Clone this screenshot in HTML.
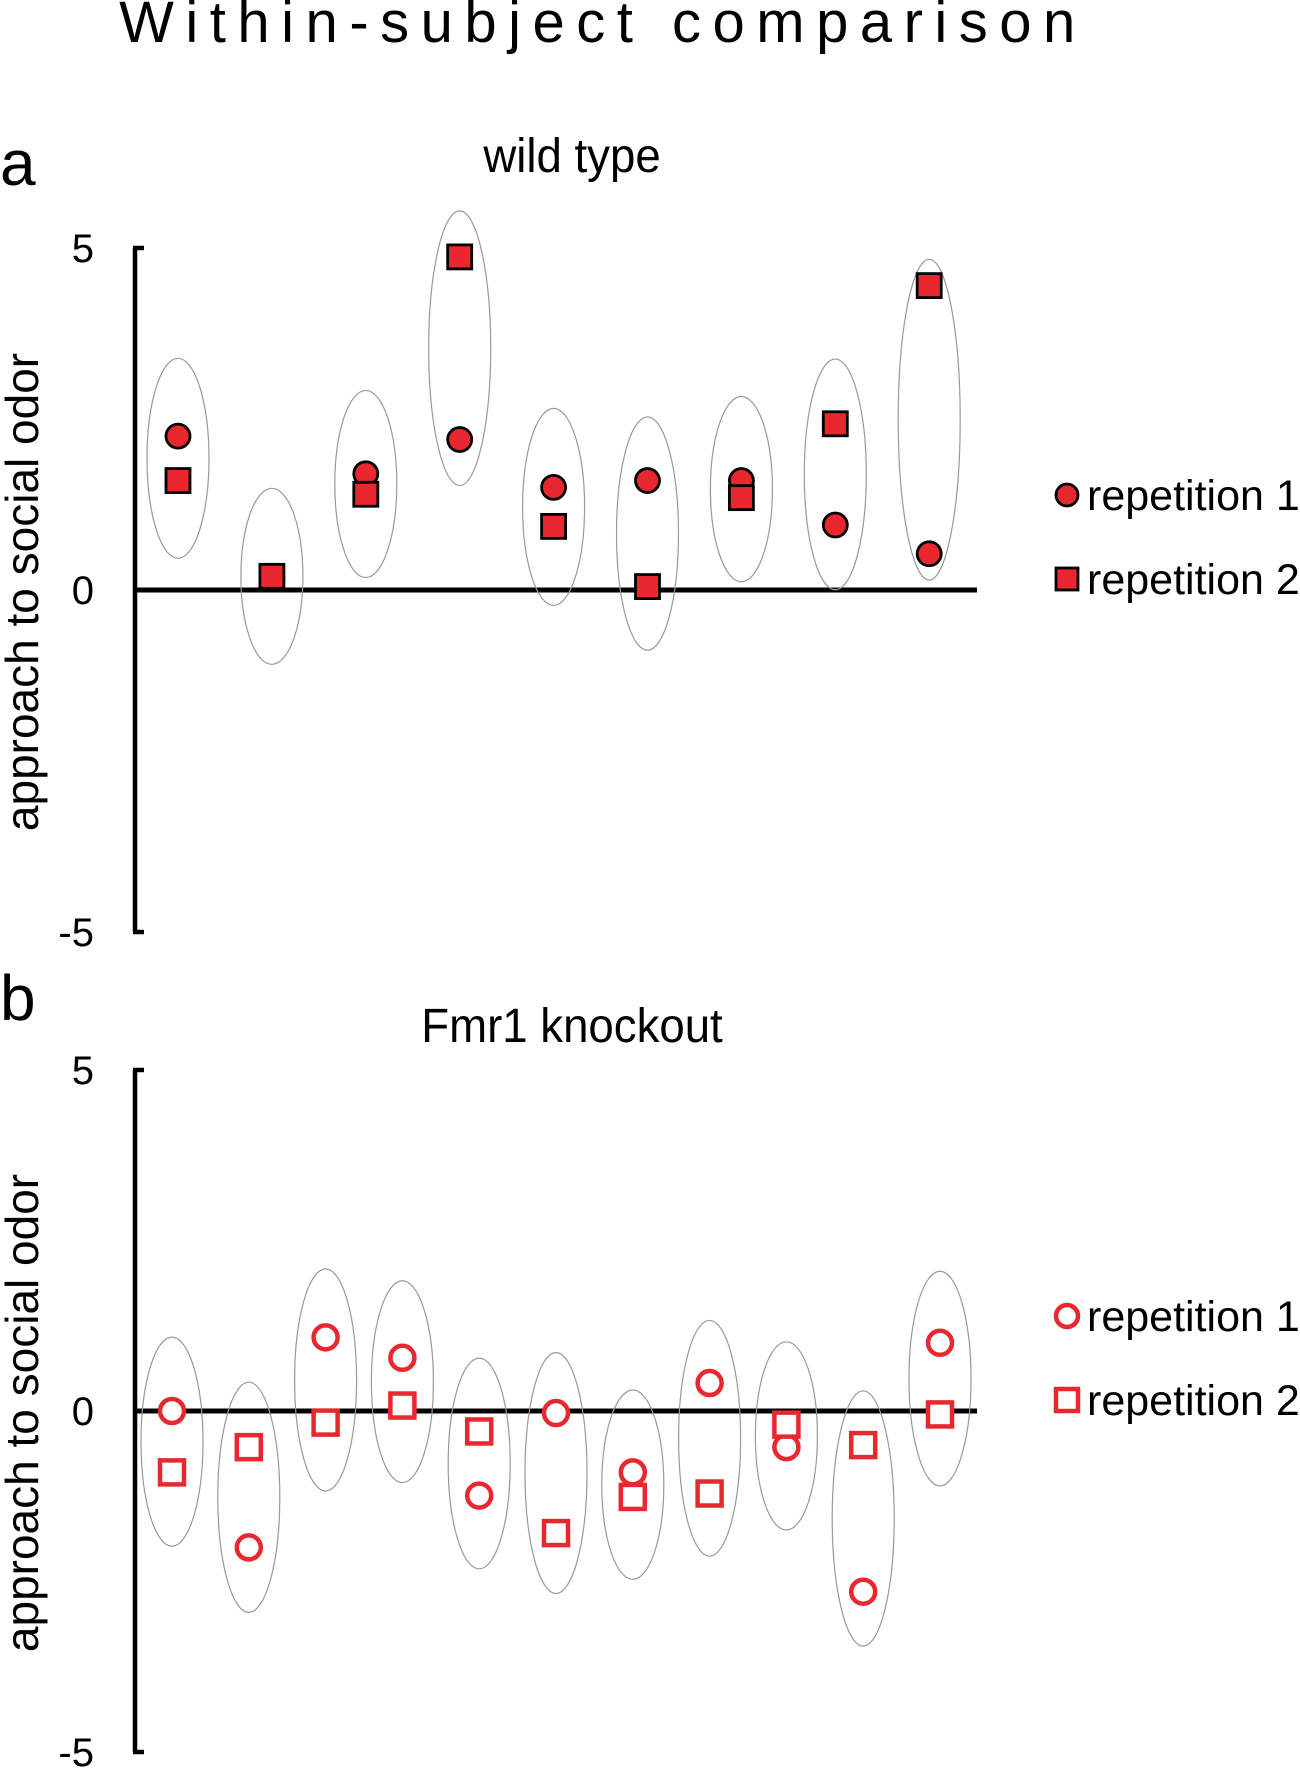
<!DOCTYPE html>
<html><head><meta charset="utf-8"><style>
html,body{margin:0;padding:0;background:#fff;}
svg{display:block;font-family:"Liberation Sans",Arial,sans-serif;}
</style></head><body>
<svg id="chart" width="1300" height="1770" viewBox="0 0 1300 1770" xmlns="http://www.w3.org/2000/svg">
<text x="603" y="42" font-size="58" text-anchor="middle" letter-spacing="11.5">Within-subject comparison</text>
<text x="0" y="185" font-size="64">a</text>
<text x="572" y="172" font-size="48" text-anchor="middle" transform="translate(572,0) scale(0.95,1) translate(-572,0)">wild type</text>
<text x="0" y="1020" font-size="64">b</text>
<text x="572" y="1042" font-size="48" text-anchor="middle" transform="translate(572,0) scale(0.95,1) translate(-572,0)">Fmr1 knockout</text>
<g id="pa"></g>
<g id="pb"></g>
</svg>
<script>
const wtRep1 = [2.25, 0.2, 1.7, 2.2, 1.5, 1.6, 1.6, 0.95, 0.53];
const wtRep2 = [1.6, 0.2, 1.4, 4.87, 0.93, 0.05, 1.35, 2.43, 4.45];
const koRep1 = [0, -2.0, 1.08, 0.78, -1.24, -0.03, -0.9, 0.41, -0.53, -2.65, 1.0];
const koRep2 = [-0.9, -0.53, -0.17, 0.08, -0.3, -1.79, -1.26, -1.21, -0.2, -0.5, -0.05];
const yTicks = [5, 0, -5];
const legendLabels = ["repetition 1", "repetition 2"];

const NS = "http://www.w3.org/2000/svg";
function mk(tag, attrs, parent){const e=document.createElementNS(NS,tag);for(const k in attrs)e.setAttribute(k,attrs[k]);parent.appendChild(e);return e;}

function panel(g, top, zero, xStart, xStep, r1, r2, filled, prefix){
  const unit = (zero - top)/5;
  const y = v => zero - v*unit;
  const xs = i => xStart + i*xStep;
  const axX = 135;
  const ax = mk('line',{x1:axX,y1:y(5),x2:axX,y2:y(-5),stroke:'#000','stroke-width':4.5},g);
  
  
  yTicks.forEach(t=>{
    const tk = mk('line',{x1:axX-2,y1:y(t),x2:axX+9,y2:y(t),stroke:'#000','stroke-width':4.5},g);
    
    
    const tl = mk('text',{x:94,y:y(t)+14,'font-size':40,'text-anchor':'end'},g);
    tl.textContent = t;
    
    
  });
  const zl = mk('line',{x1:axX,y1:y(0),x2:977,y2:y(0),stroke:'#000','stroke-width':5},g);
  
  
  const yt = mk('text',{x:0,y:0,'font-size':46,'text-anchor':'middle',transform:`translate(38,${y(0)+2}) rotate(-90)`},g);
  yt.textContent = 'approach to social odor';
  
  
  const stroke = filled ? '#000' : '#e8282e';
  const fill = filled ? '#e8282e' : '#fff';
  const sw = filled ? 2.8 : 4.5;
  r1.forEach((v,i)=>{
    const a=y(v), b=y(r2[i]);
    const cy=(a+b)/2, h=88 + 0.27*Math.abs(a-b);
    const el = mk('ellipse',{cx:xs(i),cy:cy,rx:31,ry:h,fill:'none',stroke:'#999','stroke-width':1.2},g);
    
    
  });
  r1.forEach((v,i)=>{
    const c = mk('circle',{cx:xs(i),cy:y(v),r:12,fill:fill,stroke:stroke,'stroke-width':sw},g);
    
    
  });
  r2.forEach((v,i)=>{
    const s = mk('rect',{x:xs(i)-12,y:y(v)-12,width:24,height:24,fill:fill,stroke:stroke,'stroke-width':sw},g);
    
    
  });
  const ly = [y(0)-95, y(0)-11];
  const lc = mk('circle',{cx:1067,cy:ly[0],r:11,fill:fill,stroke:stroke,'stroke-width':sw},g);
  
  
  const lr = mk('rect',{x:1056,y:ly[1]-11,width:22,height:22,fill:fill,stroke:stroke,'stroke-width':sw},g);
  
  
  legendLabels.forEach((t,i)=>{
    const tx = mk('text',{x:1087,y:ly[i]+15,'font-size':43},g);
    tx.textContent = t;
    
    
  });
}
panel(document.getElementById('pa'), 248, 590, 178, 93.9, wtRep1, wtRep2, true, 'wt');
panel(document.getElementById('pb'), 1070, 1411, 172, 76.8, koRep1, koRep2, false, 'ko');
</script>
</body></html>
